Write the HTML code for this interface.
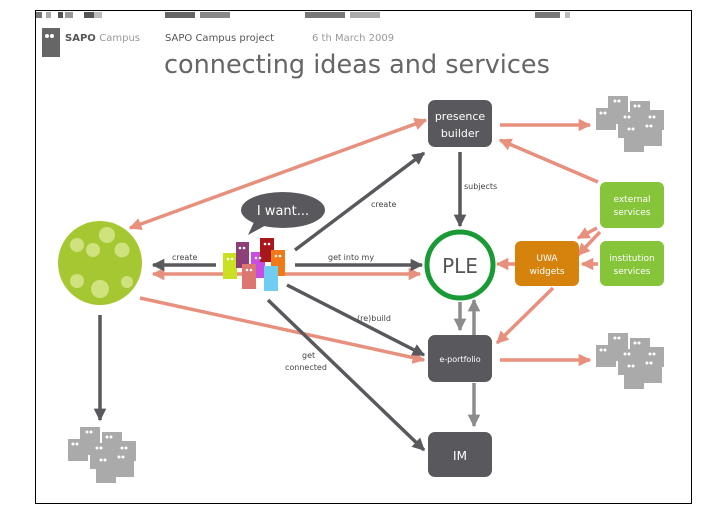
<!DOCTYPE html>
<html><head><meta charset="utf-8"><style>
body{margin:0;background:#fff;width:728px;height:514px;overflow:hidden}
svg{display:block}
text{font-family:"DejaVu Sans","Liberation Sans",sans-serif}
</style></head><body>
<svg width="728" height="514" viewBox="0 0 728 514" xmlns="http://www.w3.org/2000/svg">
<defs>
<marker id="ad" viewBox="0 0 10 10" refX="9" refY="5" markerWidth="3.6" markerHeight="3.6" orient="auto-start-reverse"><path d="M0,0L10,5L0,10z" fill="#59585d"/></marker>
<marker id="ap" viewBox="0 0 10 10" refX="9" refY="5" markerWidth="3.6" markerHeight="3.6" orient="auto-start-reverse"><path d="M0,0L10,5L0,10z" fill="#e8907e"/></marker>
<marker id="ag" viewBox="0 0 10 10" refX="9" refY="5" markerWidth="3.6" markerHeight="3.6" orient="auto-start-reverse"><path d="M0,0L10,5L0,10z" fill="#8c8c8c"/></marker>
<g id="bld">
<g fill="#aaaaaa">
<rect x="0" y="12" width="20" height="22"/><rect x="12" y="0" width="20" height="28"/><rect x="34" y="5" width="20" height="25"/><rect x="22" y="16" width="22" height="26"/><rect x="46" y="14" width="22" height="20"/><rect x="28" y="28" width="20" height="28"/><rect x="46" y="24" width="20" height="26"/>
</g>
<g fill="#fff"><circle cx="19" cy="5" r="1.5"/><circle cx="23" cy="5" r="1.5"/><circle cx="5" cy="17" r="1.5"/><circle cx="9" cy="17" r="1.5"/><circle cx="39" cy="10" r="1.5"/><circle cx="43" cy="10" r="1.5"/><circle cx="29" cy="21" r="1.5"/><circle cx="33" cy="21" r="1.5"/><circle cx="54" cy="21" r="1.5"/><circle cx="58" cy="21" r="1.5"/><circle cx="33" cy="33" r="1.5"/><circle cx="37" cy="33" r="1.5"/><circle cx="51" cy="30" r="1.5"/><circle cx="55" cy="30" r="1.5"/></g>
</g>
</defs>
<g><rect x="36" y="12" width="6" height="6" fill="#777"/><rect x="46" y="12" width="5" height="6" fill="#aaa"/><rect x="58" y="12" width="5" height="6" fill="#555"/><rect x="65" y="12" width="8" height="6" fill="#999"/><rect x="84" y="12" width="10" height="6" fill="#555"/><rect x="94" y="12" width="8" height="6" fill="#bbb"/><rect x="165" y="12" width="30" height="6" fill="#666"/><rect x="200" y="12" width="30" height="6" fill="#888"/><rect x="305" y="12" width="40" height="6" fill="#777"/><rect x="350" y="12" width="30" height="6" fill="#aaa"/><rect x="535" y="12" width="25" height="6" fill="#777"/><rect x="565" y="12" width="5" height="6" fill="#bbb"/></g>
<rect x="35.5" y="10.5" width="656" height="493" fill="none" stroke="#000" stroke-width="1"/>
<rect x="42" y="28" width="18" height="29" fill="#666"/>
<circle cx="47" cy="36" r="2" fill="#fff"/><circle cx="52" cy="36" r="2" fill="#fff"/>
<text x="65" y="41" font-size="10" fill="#555" font-weight="bold">SAPO <tspan fill="#999" font-weight="normal">Campus</tspan></text>
<text x="165" y="41" font-size="10" fill="#555">SAPO Campus project</text>
<text x="312" y="41" font-size="10" fill="#999">6 th March 2009</text>
<text x="164" y="73" font-size="25.5" fill="#666">connecting ideas and services</text>
<g stroke="#e8907e" stroke-width="3.5" fill="none" marker-end="url(#ap)">
<line x1="130" y1="228" x2="426" y2="120" marker-start="url(#ap)"/>
<line x1="500" y1="125" x2="590" y2="125"/>
<line x1="598" y1="182" x2="500" y2="140"/>
<line x1="153" y1="274" x2="420" y2="274" marker-start="url(#ap)"/>
<line x1="515" y1="264" x2="497" y2="264"/>
<line x1="598" y1="264" x2="582" y2="264"/>
<line x1="597" y1="228" x2="578" y2="238"/>
<line x1="600" y1="232" x2="578" y2="255"/>
<line x1="553" y1="288" x2="497" y2="343"/>
<line x1="140" y1="298" x2="424" y2="360"/>
<line x1="500" y1="360" x2="590" y2="360"/>
</g>
<g stroke="#59585d" stroke-width="3.5" fill="none" marker-end="url(#ad)">
<line x1="295" y1="250" x2="424" y2="153"/>
<line x1="216" y1="265" x2="153" y2="265"/>
<line x1="295" y1="265" x2="422" y2="265"/>
<line x1="460" y1="152" x2="460" y2="226"/>
<line x1="287" y1="285" x2="424" y2="355"/>
<line x1="268" y1="300" x2="424" y2="450"/>
<line x1="100" y1="315" x2="100" y2="420"/>
</g>
<g stroke="#8c8c8c" stroke-width="3.5" fill="none" marker-end="url(#ag)">
<line x1="460" y1="302" x2="460" y2="330"/>
<line x1="474" y1="335" x2="474" y2="300"/>
<line x1="474" y1="383" x2="474" y2="426"/>
</g>
<g font-size="8" fill="#444"><text x="371" y="207">create</text><text x="464" y="189">subjects</text><text x="172" y="260">create</text><text x="328" y="260">get into my</text><text x="357" y="321">(re)build</text><text x="302" y="358">get</text><text x="285" y="370">connected</text></g>
<g fill="#59585d">
<rect x="428" y="100" width="64" height="47" rx="7"/>
<rect x="428" y="335" width="64" height="47" rx="7"/>
<rect x="428" y="432" width="64" height="45" rx="7"/>
</g>
<g fill="#fff" text-anchor="middle"><text x="460" y="120" font-size="11">presence</text><text x="460" y="137" font-size="11">builder</text><text x="460" y="362" font-size="8">e-portfolio</text><text x="460" y="460" font-size="12">IM</text></g>
<circle cx="460" cy="265" r="33" fill="#fff" stroke="#1a9a36" stroke-width="5"/>
<text x="460" y="273" font-size="20" fill="#555" text-anchor="middle">PLE</text>
<rect x="515" y="241" width="64" height="45" rx="6" fill="#d5830d"/>
<rect x="600" y="182" width="64" height="46" rx="6" fill="#86c43a"/>
<rect x="600" y="241" width="64" height="45" rx="6" fill="#86c43a"/>
<g fill="#fff" font-size="9" text-anchor="middle"><text x="547" y="261">UWA</text><text x="547" y="274">widgets</text><text x="632" y="202">external</text><text x="632" y="215">services</text><text x="632" y="261">institution</text><text x="632" y="274">services</text></g>
<ellipse cx="283" cy="210" rx="42" ry="18" fill="#59585d"/>
<path d="M255,220 L248,235 L268,224z" fill="#59585d"/>
<text x="283" y="215" font-size="13" fill="#fff" text-anchor="middle">I want...</text>
<rect x="223" y="253" width="14" height="26" fill="#c9e023"/>
<rect x="236" y="242" width="13" height="26" fill="#8d3f78"/>
<rect x="251" y="252" width="14" height="26" fill="#c84de0"/>
<rect x="260" y="238" width="14" height="24" fill="#a8171b"/>
<rect x="271" y="250" width="14" height="26" fill="#f07a1a"/>
<rect x="242" y="264" width="14" height="25" fill="#dc7670"/>
<rect x="264" y="266" width="14" height="25" fill="#6fcdf2"/>
<g fill="#fff"><circle cx="228" cy="259" r="1.3"/><circle cx="232" cy="259" r="1.3"/><circle cx="240" cy="248" r="1.3"/><circle cx="244" cy="248" r="1.3"/><circle cx="265" cy="244" r="1.3"/><circle cx="269" cy="244" r="1.3"/><circle cx="256" cy="258" r="1.3"/><circle cx="260" cy="258" r="1.3"/><circle cx="276" cy="256" r="1.3"/><circle cx="280" cy="256" r="1.3"/><circle cx="247" cy="270" r="1.3"/><circle cx="251" cy="270" r="1.3"/></g>
<circle cx="100" cy="263" r="42" fill="#a5c832"/>
<g fill="#cfe27e"><circle cx="77" cy="245" r="7"/><circle cx="93" cy="250" r="7"/><circle cx="107" cy="235" r="8"/><circle cx="122" cy="250" r="7.5"/><circle cx="77" cy="281" r="7"/><circle cx="100" cy="289" r="9"/><circle cx="127" cy="282" r="6"/></g>
<use href="#bld" x="596" y="96"/>
<use href="#bld" x="596" y="333"/>
<use href="#bld" x="68" y="427"/>
</svg>
</body></html>
